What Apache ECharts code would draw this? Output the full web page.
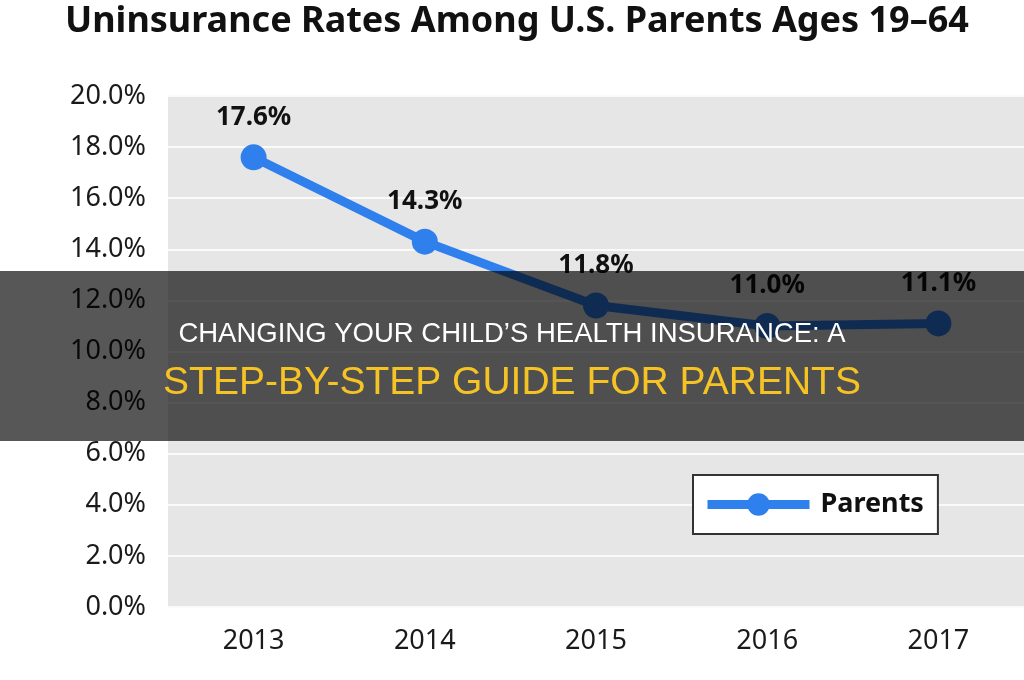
<!DOCTYPE html>
<html>
<head>
    <meta charset="utf-8">
    <title>Uninsurance Rates Among U.S. Parents</title>
    <script src="https://cdn.jsdelivr.net/npm/echarts@6/dist/echarts.min.js"></script>
    <style>
        html, body { margin: 0; padding: 0; background: #fff; }
        #main { width: 1024px; height: 680px; }
    </style>
</head>
<body>
<div id="main"></div>
<script type="text/javascript">
    // data
    var years = ['2013', '2014', '2015', '2016', '2017'];
    var parents = [17.6, 14.3, 11.8, 11.0, 11.1];
    var seriesName = 'Parents';
    var chartTitle = 'Uninsurance Rates Among U.S. Parents Ages 19\u201364';
    var bannerLine1 = 'CHANGING YOUR CHILD\u2019S HEALTH INSURANCE: A';
    var bannerLine2 = 'STEP-BY-STEP GUIDE FOR PARENTS';

    var blue = '#2f7fec';
    var font = "'Noto Sans', 'Open Sans', sans-serif";
    var bannerFont = "'Liberation Sans', Arial, sans-serif";

    var myChart = echarts.init(document.getElementById('main'));

    var option = {
        animation: false,
        backgroundColor: '#fff',
        title: {
            text: chartTitle,
            left: 60,
            top: -1,
            textStyle: {
                fontFamily: font,
                fontSize: 36,
                fontWeight: 'bold',
                color: '#111'
            }
        },
        legend: {
            data: [seriesName],
            left: 693,
            top: 475,
            orient: 'horizontal',
            backgroundColor: '#fff',
            borderColor: '#333',
            borderWidth: 2,
            borderRadius: 0,
            padding: [16, 14, 16, 10],
            itemWidth: 102,
            itemHeight: 28,
            itemGap: 10,
            lineStyle: { width: 9 },
            textStyle: {
                fontFamily: font,
                fontSize: 27,
                fontWeight: 'bold',
                color: '#111',
                padding: [0, 0, 0, 6]
            }
        },
        grid: {
            left: 168,
            top: 96,
            width: 870,
            height: 511,
            show: true,
            backgroundColor: '#e6e6e6',
            borderWidth: 0
        },
        xAxis: {
            type: 'category',
            data: years,
            boundaryGap: true,
            axisLine: { show: false },
            axisTick: { show: false },
            axisLabel: {
                margin: 21,
                fontFamily: font,
                fontSize: 27,
                color: '#1a1a1a'
            }
        },
        yAxis: {
            type: 'value',
            min: 0,
            max: 20,
            interval: 2,
            axisLine: { show: false },
            axisTick: { show: false },
            axisLabel: {
                margin: 22,
                fontFamily: font,
                fontSize: 27,
                color: '#1a1a1a',
                formatter: function (v) { return v.toFixed(1) + '%'; }
            },
            splitLine: { lineStyle: { color: '#fafafa', width: 2 } }
        },
        series: [{
            name: seriesName,
            type: 'line',
            data: parents,
            symbol: 'circle',
            symbolSize: 26,
            itemStyle: { color: blue },
            lineStyle: { color: blue, width: 9 },
            label: {
                show: true,
                position: 'top',
                distance: 14,
                fontFamily: font,
                fontSize: 26,
                fontWeight: 'bold',
                color: '#111',
                formatter: function (p) { return p.value.toFixed(1) + '%'; }
            }
        }],
        graphic: [
            {
                type: 'rect',
                z: 100,
                shape: { x: 0, y: 271, width: 1024, height: 170 },
                style: { fill: 'rgba(0,0,0,0.66)' }
            },
            {
                type: 'text',
                z: 101,
                x: 512,
                y: 334,
                style: {
                    text: bannerLine1,
                    fill: '#fff',
                    fontFamily: bannerFont,
                    fontSize: 27.5,
                    align: 'center',
                    verticalAlign: 'middle'
                }
            },
            {
                type: 'text',
                z: 101,
                x: 512,
                y: 383,
                style: {
                    text: bannerLine2,
                    fill: '#f6c324',
                    fontFamily: bannerFont,
                    fontSize: 39,
                    align: 'center',
                    verticalAlign: 'middle'
                }
            }
        ]
    };

    myChart.setOption(option);
</script>
</body>
</html>
